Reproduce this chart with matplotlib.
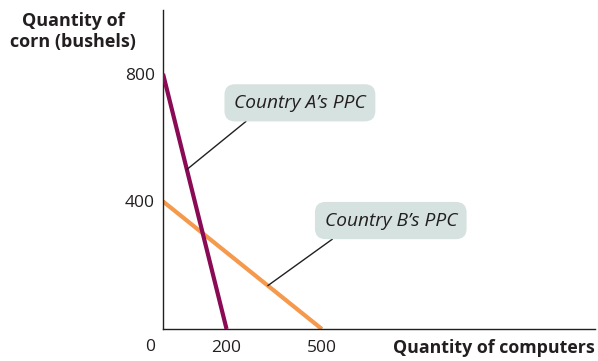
import matplotlib.pyplot as plt

# production possibility frontiers (computers, corn)
country_a_x = [0, 200]
country_a_y = [800, 0]
country_b_x = [0, 500]
country_b_y = [400, 0]

x_ticks = [200, 500]
y_ticks = [400, 800]

A_COLOR = "#8a0a55"
B_COLOR = "#f5994d"
BOX_COLOR = "#d6e2df"
TEXT_COLOR = "#231f20"

plt.rcParams['font.family'] = ['Open Sans', 'DejaVu Sans']

fig = plt.figure(figsize=(5.98, 3.61), dpi=100)
ax = fig.add_axes([0.2726, 0.0886, 0.7224, 0.8837])

ax.plot(country_a_x, country_a_y, color=A_COLOR, lw=3.0, solid_capstyle='butt', zorder=3)
ax.plot(country_b_x, country_b_y, color=B_COLOR, lw=3.0, solid_capstyle='butt', zorder=2)

ax.set_xlim(0, 1360)
ax.set_ylim(0, 1000)

for side in ['top', 'right']:
    ax.spines[side].set_visible(False)
for side in ['left', 'bottom']:
    ax.spines[side].set_color(TEXT_COLOR)
    ax.spines[side].set_linewidth(1.0)

ax.set_xticks(x_ticks)
ax.set_yticks(y_ticks)
ax.set_xticklabels([str(v) for v in x_ticks])
ax.set_yticklabels([str(v) for v in y_ticks])
ax.tick_params(length=0, labelsize=12.5, colors=TEXT_COLOR)
ax.tick_params(axis='x', pad=8)
ax.tick_params(axis='y', pad=6)
ax.text(-40, -32, "0", ha='center', va='top', fontsize=12.5, color=TEXT_COLOR)

ax.text(1358, -30, "Quantity of computers", ha='right', va='top',
        fontsize=12.8, fontweight='bold', color=TEXT_COLOR)
fig.text(0.122, 0.912, "Quantity of\ncorn (bushels)", ha='center', va='center',
         fontsize=13, fontweight='bold', color=TEXT_COLOR, linespacing=1.2)

# callout labels with leader lines
box = dict(boxstyle='round,pad=0.5,rounding_size=0.55', fc=BOX_COLOR, ec='none')
ax.annotate("Country A\u2019s PPC", xy=(75, 500), xytext=(431, 709),
            ha='center', va='center', fontsize=13.8, style='italic', color=TEXT_COLOR,
            bbox=box,
            arrowprops=dict(arrowstyle='-', color=TEXT_COLOR, lw=1.0,
                            relpos=(0.18, 0.0), shrinkA=0, shrinkB=0))
ax.annotate("Country B\u2019s PPC", xy=(330, 136), xytext=(717, 340),
            ha='center', va='center', fontsize=13.8, style='italic', color=TEXT_COLOR,
            bbox=box,
            arrowprops=dict(arrowstyle='-', color=TEXT_COLOR, lw=1.0,
                            relpos=(0.16, 0.0), shrinkA=0, shrinkB=0))

fig.savefig("out.png", dpi=100)
